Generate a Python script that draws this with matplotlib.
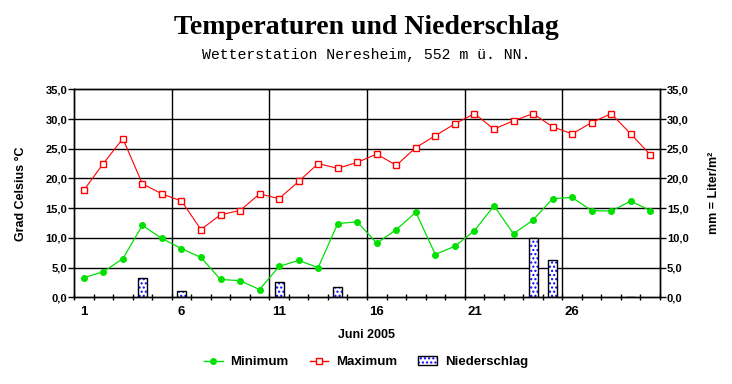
import matplotlib
matplotlib.use("Agg")
import matplotlib.pyplot as plt
from matplotlib.lines import Line2D
from matplotlib.patches import Patch
from matplotlib.ticker import FuncFormatter, FixedLocator
import numpy as np

days = list(range(1, 31))
t_min = [3.3, 4.3, 6.5, 12.1, 9.9, 8.2, 6.7, 3.0, 2.8, 1.3,
         5.2, 6.2, 5.0, 12.4, 12.7, 9.1, 11.4, 14.3, 7.2, 8.6,
         11.2, 15.4, 10.7, 13.0, 16.6, 16.8, 14.6, 14.5, 16.2, 14.6]
t_max = [18.0, 22.5, 26.7, 19.1, 17.4, 16.2, 11.4, 13.9, 14.6, 17.4,
         16.6, 19.5, 22.5, 21.7, 22.7, 24.1, 22.2, 25.2, 27.2, 29.2,
         30.9, 28.3, 29.7, 30.9, 28.7, 27.5, 29.4, 30.9, 27.5, 24.0]
rain_days = [4, 6, 11, 14, 24, 25, 29]
rain_mm = [3.3, 1.1, 2.6, 1.8, 10.0, 6.2, 0.1]
x_labels = ["1", "6", "11", "16", "21", "26"]
y_ticks = [0, 5, 10, 15, 20, 25, 30, 35]

plt.rcParams['font.family'] = ['Liberation Sans', 'DejaVu Sans']
plt.rcParams['hatch.linewidth'] = 1.0

fig = plt.figure(figsize=(7.32, 3.84), dpi=100)
W, H = 732, 384
l, r, t, b = 74, 660, 89.3, 297.3
ax2 = fig.add_axes([l / W, 1 - b / H, (r - l) / W, (b - t) / H])
ax = ax2.twinx()
ax.set_zorder(ax2.get_zorder() + 1)
ax.patch.set_visible(False)

for a in (ax, ax2):
    a.set_xlim(0.5, 30.5)
    a.set_ylim(0, 35)
    for s in a.spines.values():
        s.set_linewidth(1.0)
        s.set_color('black')

# grid on ax2 (behind bars)
for v in y_ticks[1:-1]:
    ax2.axhline(v, color='black', lw=1.0, zorder=0.5)
for k in range(1, 6):
    ax2.axvline(0.5 + 5 * k, color='black', lw=1.0, zorder=0.5)

# precipitation bars
ax2.bar(rain_days, rain_mm, width=0.46, facecolor='white', edgecolor='blue',
        hatch='....', lw=0, zorder=2)
ax2.bar(rain_days, rain_mm, width=0.46, facecolor='none', edgecolor='black',
        lw=1.0, zorder=3)

# temperature lines (both axes share identical 0..35 limits)
ax.plot(days, t_min, color='#00e000', lw=0.9, marker='o', ms=4,
        mfc='#00e000', mec='#00e000', zorder=4)
ax.plot(days, t_max, color='red', lw=0.8, marker='s', ms=4,
        mfc='white', mec='red', mew=1.0, zorder=4)

fmt = FuncFormatter(lambda v, p: f"{v:.1f}".replace('.', ','))
for a in (ax, ax2):
    a.set_yticks(y_ticks)
    a.yaxis.set_major_formatter(fmt)
    a.tick_params(axis='y', length=4, width=1, direction='out', labelsize=8, pad=1)
    for lab in a.get_yticklabels():
        lab.set_fontweight('bold')

ax2.yaxis.tick_left()
ax.yaxis.tick_right()

ax2.set_xticks([1, 6, 11, 16, 21, 26])
ax2.set_xticklabels(x_labels, fontsize=9.5, fontweight='bold')
ax2.tick_params(axis='x', which='major', length=0, pad=6)
ax2.xaxis.set_minor_locator(FixedLocator(np.arange(0.5, 31, 1.0)))
ax2.tick_params(axis='x', which='minor', length=5, width=1, direction='inout')

ax2.set_ylabel("Grad Celsius °C", fontsize=9, fontweight='bold', labelpad=13)
ax.set_ylabel("mm = Liter/m²", fontsize=9, fontweight='bold', labelpad=14)

fig.text(0.5, 0.928, "Temperaturen und Niederschlag", ha='center', va='center',
         fontsize=20, fontweight='bold', family='Liberation Serif')
fig.text(0.5, 0.857, "Wetterstation Neresheim, 552 m ü. NN.", ha='center',
         va='center', fontsize=10.7, family='Liberation Mono')
fig.text((l + r) / 2 / W, 1 - 335 / H, "Juni 2005", ha='center', va='center',
         fontsize=9, fontweight='bold')

handles = [
    Line2D([], [], color='#00e000', lw=1, marker='o', ms=4, mfc='#00e000', mec='#00e000'),
    Line2D([], [], color='red', lw=1, marker='s', ms=4, mfc='white', mec='red'),
    (Patch(facecolor='white', edgecolor='blue', hatch='....', lw=0),
     Patch(facecolor='none', edgecolor='black', lw=1)),
]
leg = fig.legend(handles, ["Minimum", "Maximum", "Niederschlag"], loc='center',
                 bbox_to_anchor=(0.5, 1 - 362 / H), ncol=3, frameon=False,
                 prop={'weight': 'bold', 'size': 9.5}, handlelength=1.4,
                 columnspacing=1.6, handletextpad=0.6)

fig.savefig("out.png", dpi=100)
